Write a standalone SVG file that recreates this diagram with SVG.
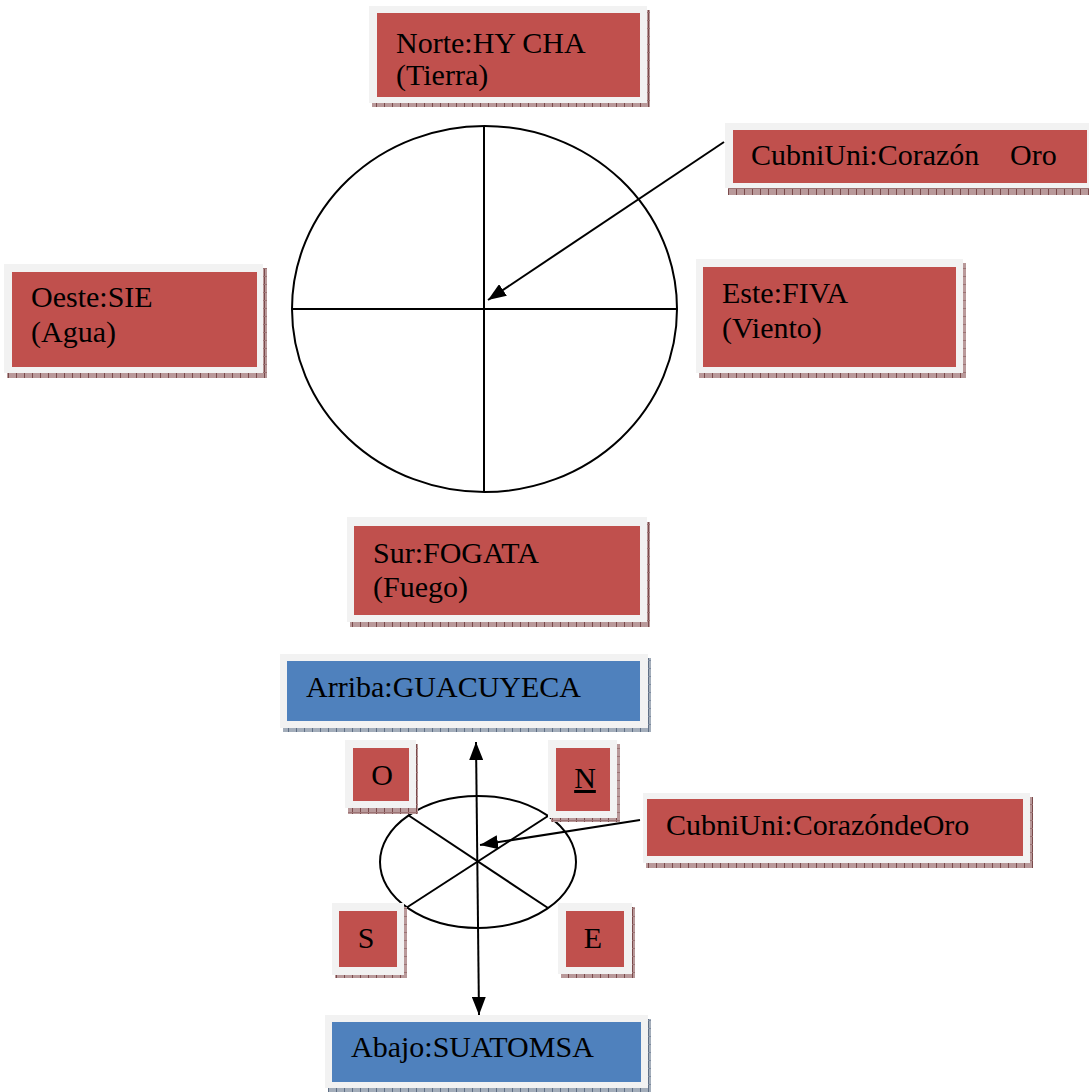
<svg xmlns="http://www.w3.org/2000/svg" width="1089" height="1092" viewBox="0 0 1089 1092">
<style>
.frame{fill:#f2f2f2}
.red{fill:#c0504d}
.blue{fill:#4f81bd}
.shr{fill:url(#patR)}
.shb{fill:url(#patB)}
.t{font-family:"Liberation Serif","Times New Roman",serif;font-size:30px;fill:#000}
.c{text-anchor:middle}
.ln{stroke:#000;stroke-width:2;fill:none}
</style>
<defs>
<pattern id="patR" width="8" height="8" patternUnits="userSpaceOnUse">
<rect width="8" height="8" fill="#b9999a"/>
<rect width="1" height="8" fill="#7a4a4b"/>
<rect width="8" height="1" y="4" fill="#9c7374"/>
</pattern>
<pattern id="patB" width="8" height="8" patternUnits="userSpaceOnUse">
<rect width="8" height="8" fill="#a3adba"/>
<rect width="1" height="8" fill="#5f6f85"/>
<rect width="8" height="1" y="4" fill="#7d8ba0"/>
</pattern>
<marker id="ah" viewBox="0 0 18 14" refX="18" refY="7" markerWidth="18" markerHeight="14" markerUnits="userSpaceOnUse" orient="auto-start-reverse">
<path d="M0,0 L18,7 L0,14 Z" fill="#000"/>
</marker>
</defs>

<g id="circle-big">
<ellipse class="ln" cx="484.5" cy="309" rx="192.5" ry="183"/>
<line class="ln" x1="484" y1="126" x2="484" y2="492"/>
<line class="ln" x1="292" y1="309" x2="677" y2="309"/>
</g>

<g id="circle-small">
<ellipse class="ln" cx="478" cy="862" rx="98" ry="66"/>
<line class="ln" x1="408" y1="815" x2="548" y2="908"/>
<line class="ln" x1="548" y1="816" x2="406" y2="908"/>
</g>

<g id="node-norte">
<rect class="shr" x="372" y="10" width="278" height="97"/>
<rect class="frame" x="369" y="6" width="278" height="97"/>
<rect class="red" x="377" y="13" width="263" height="84"/>
<text class="t" x="396" y="53">Norte:HY CHA</text>
<text class="t" x="396" y="85">(Tierra)</text>
</g>

<g id="node-cubni-top">
<rect class="shr" x="728" y="127" width="364" height="68"/>
<rect class="frame" x="725" y="123" width="364" height="65"/>
<rect class="red" x="733" y="130" width="354" height="53"/>
<text class="t" x="751" y="165">CubniUni:Corazón<tspan x="1010">Oro</tspan></text>
</g>

<g id="node-oeste">
<rect class="shr" x="7" y="268" width="260" height="110"/>
<rect class="frame" x="4" y="264" width="259" height="109"/>
<rect class="red" x="12" y="272" width="245" height="95"/>
<text class="t" x="31" y="307">Oeste:SIE</text>
<text class="t" x="31" y="342">(Agua)</text>
</g>

<g id="node-este">
<rect class="shr" x="699" y="263" width="267" height="115"/>
<rect class="frame" x="696" y="259" width="267" height="114"/>
<rect class="red" x="703" y="267" width="253" height="100"/>
<text class="t" x="722" y="303">Este:FIVA</text>
<text class="t" x="722" y="338">(Viento)</text>
</g>

<g id="node-sur">
<rect class="shr" x="350" y="522" width="300" height="105"/>
<rect class="frame" x="347" y="517" width="300" height="105"/>
<rect class="red" x="354" y="526" width="286" height="89"/>
<text class="t" x="373" y="563">Sur:FOGATA</text>
<text class="t" x="373" y="597">(Fuego)</text>
</g>

<g id="node-arriba">
<rect class="shb" x="283" y="658" width="368" height="74"/>
<rect class="frame" x="280" y="654" width="368" height="74"/>
<rect class="blue" x="287" y="661" width="353" height="60"/>
<text class="t" x="306" y="697">Arriba:GUACUYECA</text>
</g>

<g id="node-o">
<rect class="shr" x="348" y="744" width="70" height="70"/>
<rect class="frame" x="345" y="740" width="71" height="68"/>
<rect class="red" x="353" y="748" width="56" height="53"/>
<text class="t c" x="382" y="785">O</text>
</g>

<g id="node-n">
<rect class="shr" x="551" y="744" width="69" height="78"/>
<rect class="frame" x="548" y="740" width="69" height="78"/>
<rect class="red" x="556" y="748" width="54" height="63"/>
<text class="t c" x="585" y="788" text-decoration="underline">N</text>
</g>

<g id="node-s">
<rect class="shr" x="335" y="907" width="72" height="71"/>
<rect class="frame" x="332" y="903" width="72" height="72"/>
<rect class="red" x="339" y="911" width="58" height="56"/>
<text class="t c" x="366" y="948">S</text>
</g>

<g id="node-e">
<rect class="shr" x="561" y="907" width="74" height="71"/>
<rect class="frame" x="558" y="903" width="74" height="71"/>
<rect class="red" x="566" y="911" width="58" height="56"/>
<text class="t c" x="593" y="948">E</text>
</g>

<g id="node-cubni-bottom">
<rect class="shr" x="646" y="797" width="387" height="71"/>
<rect class="frame" x="643" y="793" width="387" height="70"/>
<rect class="red" x="647" y="799" width="376" height="57"/>
<text class="t" x="666" y="835">CubniUni:CorazóndeOro</text>
</g>

<g id="node-abajo">
<rect class="shb" x="328" y="1019" width="323" height="73"/>
<rect class="frame" x="325" y="1015" width="323" height="73"/>
<rect class="blue" x="332" y="1022" width="309" height="60"/>
<text class="t" x="351" y="1057">Abajo:SUATOMSA</text>
</g>

<g id="connectors">
<line class="ln" x1="724" y1="142" x2="488" y2="300" marker-end="url(#ah)"/>
<line class="ln" x1="640" y1="820" x2="480" y2="845" marker-end="url(#ah)"/>
<line class="ln" x1="476" y1="742" x2="479" y2="1015" marker-start="url(#ah)" marker-end="url(#ah)"/>
</g>
</svg>
